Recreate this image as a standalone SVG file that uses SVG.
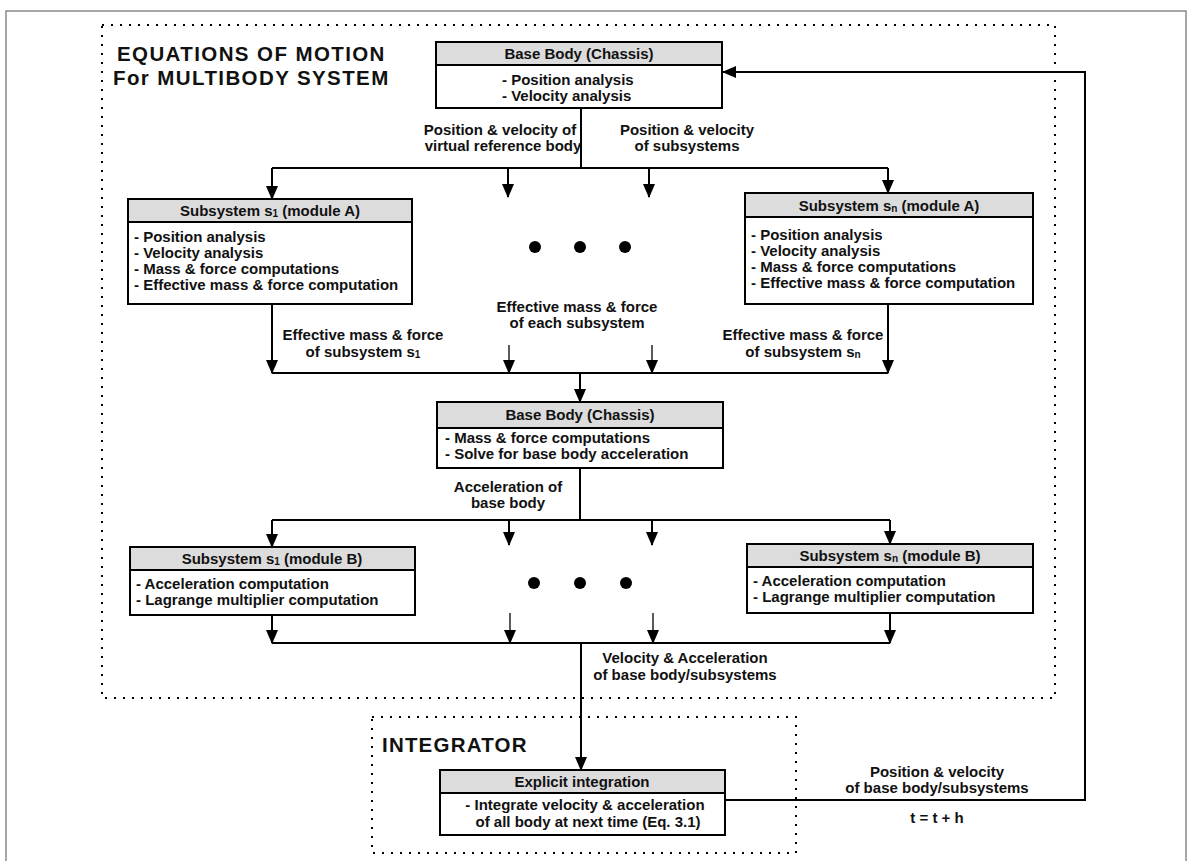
<svg xmlns="http://www.w3.org/2000/svg" width="1193" height="861" viewBox="0 0 1193 861">
<defs>
<marker id="ah" markerUnits="userSpaceOnUse" markerWidth="14" markerHeight="12" refX="13" refY="6" orient="auto" viewBox="0 0 14 12">
<path d="M0,0 L14,6 L0,12 Z" fill="#000"/>
</marker>
</defs>
<style>
text{font-family:"Liberation Sans",Arial,sans-serif;font-weight:bold;fill:#111}
.t{font-size:15px}
.c{text-anchor:middle}
.big{font-size:20.5px;letter-spacing:1.4px}
.box{fill:#fff;stroke:#000;stroke-width:2}
.hdr{fill:#dcdcdc;stroke:#000;stroke-width:2}
.ln{fill:none;stroke:#000;stroke-width:2}
.lt{fill:none;stroke:#000;stroke-width:1.3}
.dot{fill:none;stroke:#000;stroke-width:2;stroke-dasharray:2 7}
.sub{font-size:10px}
</style>
<rect width="1193" height="861" fill="#fff"/>
<rect x="6" y="11" width="1180" height="870" fill="none" stroke="#777" stroke-width="1.3"/>
<g id="eom-frame">
<rect class="dot" x="102" y="25" width="953" height="673"/>
<text class="big" x="117" y="61">EQUATIONS OF MOTION</text>
<text class="big" x="113" y="85">For MULTIBODY SYSTEM</text>
</g>
<g id="integrator-frame">
<rect class="dot" x="372" y="717" width="424" height="136"/>
<text x="382" y="752" font-size="20.5" letter-spacing="1.2">INTEGRATOR</text>
</g>
<g id="connectors">
<path class="ln" d="M581,108 V168"/>
<path class="ln" d="M272,168 H888"/>
<path class="ln" d="M272,168 V199" marker-end="url(#ah)"/>
<path class="ln" d="M888,168 V193" marker-end="url(#ah)"/>
<path class="ln" d="M508,168 V197" marker-end="url(#ah)"/>
<path class="ln" d="M649,168 V197" marker-end="url(#ah)"/>
<path class="ln" d="M272,304 V373" marker-end="url(#ah)"/>
<path class="ln" d="M888,304 V373" marker-end="url(#ah)"/>
<path class="lt" d="M509,345 V373" marker-end="url(#ah)"/>
<path class="lt" d="M652,345 V373" marker-end="url(#ah)"/>
<path class="ln" d="M272,373 H888"/>
<path class="ln" d="M580,373 V402" marker-end="url(#ah)"/>
<path class="ln" d="M580,468 V520"/>
<path class="ln" d="M272,520 H890"/>
<path class="ln" d="M272,520 V547" marker-end="url(#ah)"/>
<path class="ln" d="M890,520 V544" marker-end="url(#ah)"/>
<path class="ln" d="M509,520 V545" marker-end="url(#ah)"/>
<path class="ln" d="M652,520 V545" marker-end="url(#ah)"/>
<path class="lt" d="M510,613 V643" marker-end="url(#ah)"/>
<path class="lt" d="M653,613 V643" marker-end="url(#ah)"/>
<path class="ln" d="M272,615 V643" marker-end="url(#ah)"/>
<path class="ln" d="M890,613 V643" marker-end="url(#ah)"/>
<path class="ln" d="M272,643 H890"/>
<path class="ln" d="M581,643 V770" marker-end="url(#ah)"/>
<path class="ln" d="M725,800 H1085 V72 H723" marker-end="url(#ah)"/>
</g>
<g id="labels">
<text class="t c" x="500" y="135">Position &amp; velocity of</text>
<text class="t c" x="503" y="151">virtual reference body</text>
<text class="t c" x="687" y="135">Position &amp; velocity</text>
<text class="t c" x="687" y="151">of subsystems</text>
<text class="t c" x="577" y="312">Effective mass &amp; force</text>
<text class="t c" x="577" y="328">of each subsystem</text>
<text class="t c" x="363" y="340">Effective mass &amp; force</text>
<text class="t c" x="363" y="357">of subsystem s<tspan class="sub" dy="1">1</tspan></text>
<text class="t c" x="803" y="340">Effective mass &amp; force</text>
<text class="t c" x="803" y="357">of subsystem s<tspan class="sub" dy="1">n</tspan></text>
<text class="t c" x="508" y="492">Acceleration of</text>
<text class="t c" x="508" y="508">base body</text>
<text class="t c" x="685" y="663">Velocity &amp; Acceleration</text>
<text class="t c" x="685" y="680">of base body/subsystems</text>
<text class="t c" x="937" y="777">Position &amp; velocity</text>
<text class="t c" x="937" y="793">of base body/subsystems</text>
<text class="t c" x="937" y="823">t = t + h</text>
</g>
<g id="dots1">
<circle cx="535" cy="247" r="6"/><circle cx="580" cy="247" r="6"/><circle cx="625" cy="247" r="6"/>
</g>
<g id="dots2">
<circle cx="534" cy="583" r="6"/><circle cx="580" cy="583" r="6"/><circle cx="626" cy="583" r="6"/>
</g>
<g id="base-body-1">
<rect class="box" x="436" y="42" width="286" height="66"/>
<rect class="hdr" x="436" y="42" width="286" height="23"/>
<text class="t c" x="579" y="59">Base Body (Chassis)</text>
<text class="t" x="502" y="85">- Position analysis</text>
<text class="t" x="502" y="101">- Velocity analysis</text>
</g>
<g id="subsystem-s1-a">
<rect class="box" x="128" y="199" width="284" height="105"/>
<rect class="hdr" x="128" y="199" width="284" height="23"/>
<text class="t c" x="270" y="216">Subsystem s<tspan class="sub" dy="1">1</tspan><tspan dy="-1"> (module A)</tspan></text>
<text class="t" x="134" y="242">- Position analysis</text>
<text class="t" x="134" y="258">- Velocity analysis</text>
<text class="t" x="134" y="274">- Mass &amp; force computations</text>
<text class="t" x="134" y="290">- Effective mass &amp; force computation</text>
</g>
<g id="subsystem-sn-a">
<rect class="box" x="745" y="193" width="288" height="111"/>
<rect class="hdr" x="745" y="193" width="288" height="24"/>
<text class="t c" x="889" y="211">Subsystem s<tspan class="sub" dy="1">n</tspan><tspan dy="-1"> (module A)</tspan></text>
<text class="t" x="751" y="240">- Position analysis</text>
<text class="t" x="751" y="256">- Velocity analysis</text>
<text class="t" x="751" y="272">- Mass &amp; force computations</text>
<text class="t" x="751" y="288">- Effective mass &amp; force computation</text>
</g>
<g id="base-body-2">
<rect class="box" x="437" y="402" width="286" height="66"/>
<rect class="hdr" x="437" y="402" width="286" height="26"/>
<text class="t c" x="580" y="420">Base Body (Chassis)</text>
<text class="t" x="445" y="443">- Mass &amp; force computations</text>
<text class="t" x="445" y="459">- Solve for base body acceleration</text>
</g>
<g id="subsystem-s1-b">
<rect class="box" x="130" y="547" width="285" height="68"/>
<rect class="hdr" x="130" y="547" width="285" height="23"/>
<text class="t c" x="272" y="564">Subsystem s<tspan class="sub" dy="1">1</tspan><tspan dy="-1"> (module B)</tspan></text>
<text class="t" x="136" y="589">- Acceleration computation</text>
<text class="t" x="136" y="605">- Lagrange multiplier computation</text>
</g>
<g id="subsystem-sn-b">
<rect class="box" x="747" y="544" width="286" height="69"/>
<rect class="hdr" x="747" y="544" width="286" height="23"/>
<text class="t c" x="890" y="561">Subsystem s<tspan class="sub" dy="1">n</tspan><tspan dy="-1"> (module B)</tspan></text>
<text class="t" x="753" y="586">- Acceleration computation</text>
<text class="t" x="753" y="602">- Lagrange multiplier computation</text>
</g>
<g id="explicit-integration">
<rect class="box" x="440" y="770" width="285" height="65"/>
<rect class="hdr" x="440" y="770" width="285" height="23"/>
<text class="t c" x="582" y="787">Explicit integration</text>
<text class="t c" x="585" y="810">- Integrate velocity &amp; acceleration</text>
<text class="t c" x="588" y="827">of all body at next time (Eq. 3.1)</text>
</g>
</svg>
